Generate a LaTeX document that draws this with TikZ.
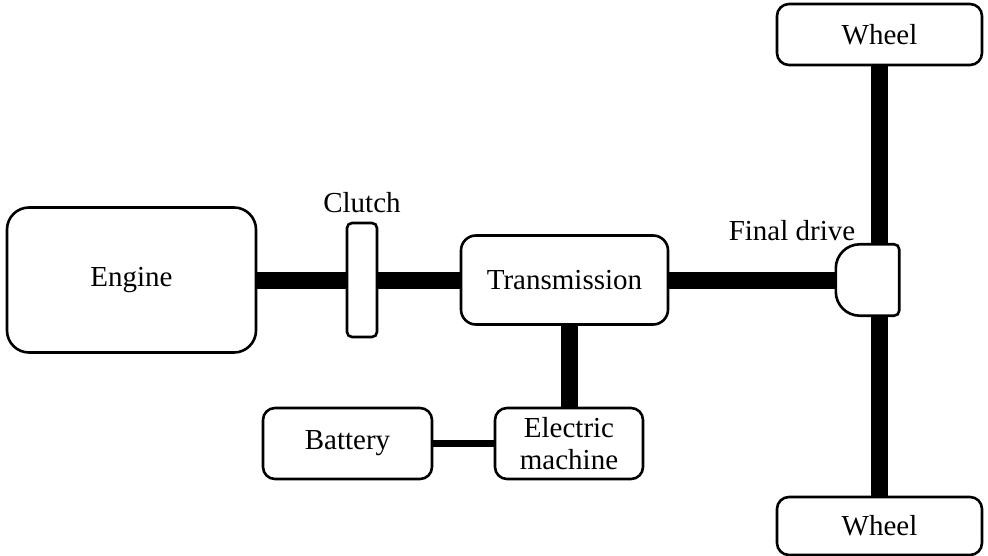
\documentclass[tikz,border=0pt]{standalone}
\usepackage{fontspec}
\setmainfont{Liberation Serif}
\usetikzlibrary{backgrounds}
\begin{document}
\begin{tikzpicture}[x=1pt,y=-1pt,
  box/.style={draw, line width=2.6pt, fill=white, rounded corners=#1, inner sep=0pt, font=\fontsize{29}{32}\selectfont, align=center},
  box/.default=12pt,
  shaft/.style={line width=17pt},
  wire/.style={line width=7pt},
  lbl/.style={font=\fontsize{29}{32}\selectfont, inner sep=0pt}]
\useasboundingbox (0,0) rectangle (988,556);
\node[box=22pt, minimum width=249pt, minimum height=145pt] (engine) at (131.5,280) {Engine};
\node[box=5pt, minimum width=30pt, minimum height=114pt] (clutch) at (362,280) {};
\node[lbl] (clutchlbl) at (362,203) {Clutch};
\node[box=15pt, minimum width=207pt, minimum height=89pt] (trans) at (564.5,280) {Transmission};
\node[box=12pt, minimum width=148pt, minimum height=71pt] (em) at (569,443.5) {Electric\\machine};
\node[box=12pt, minimum width=169pt, minimum height=71pt] (batt) at (347.5,443.5) {Battery};
\node[box=12pt, minimum width=205pt, minimum height=61pt] (wheel1) at (879.5,34.5) {Wheel};
\node[box=12pt, minimum width=205pt, minimum height=58pt] (wheel2) at (879.5,526) {Wheel};
\node[minimum width=63pt, minimum height=71pt, inner sep=0pt] (fd) at (867.5,280) {};
\node[lbl] (fdlbl) at (792,231) {Final drive};
\draw[line width=2.6pt, fill=white]
  ([xshift=24pt]fd.north west)
  -- ([xshift=-5pt]fd.north east)
  .. controls ([xshift=-2.2pt]fd.north east) and ([yshift=-2.2pt]fd.north east) .. ([yshift=-5pt]fd.north east)
  -- ([yshift=5pt]fd.south east)
  .. controls ([yshift=2.2pt]fd.south east) and ([xshift=-2.2pt]fd.south east) .. ([xshift=-5pt]fd.south east)
  -- ([xshift=24pt]fd.south west)
  .. controls ([xshift=10.75pt]fd.south west) and ([yshift=10.75pt]fd.south west) .. ([yshift=24pt]fd.south west)
  -- ([yshift=-24pt]fd.north west)
  .. controls ([yshift=-10.75pt]fd.north west) and ([xshift=10.75pt]fd.north west) .. ([xshift=24pt]fd.north west)
  -- cycle;
\begin{scope}[on background layer]
  \draw[shaft] (engine.east) -- (clutch.west);
  \draw[shaft] (clutch.east) -- (trans.west);
  \draw[shaft] (trans.east) -- (fd.west);
  \draw[shaft] (em.north) -- (em.north |- trans.south);
  \draw[shaft] (wheel1.south) -- (wheel1.south |- fd.north);
  \draw[shaft] (wheel2.north) -- (wheel2.north |- fd.south);
  \draw[wire] (batt.east) -- (em.west);
\end{scope}
\end{tikzpicture}
\end{document}
